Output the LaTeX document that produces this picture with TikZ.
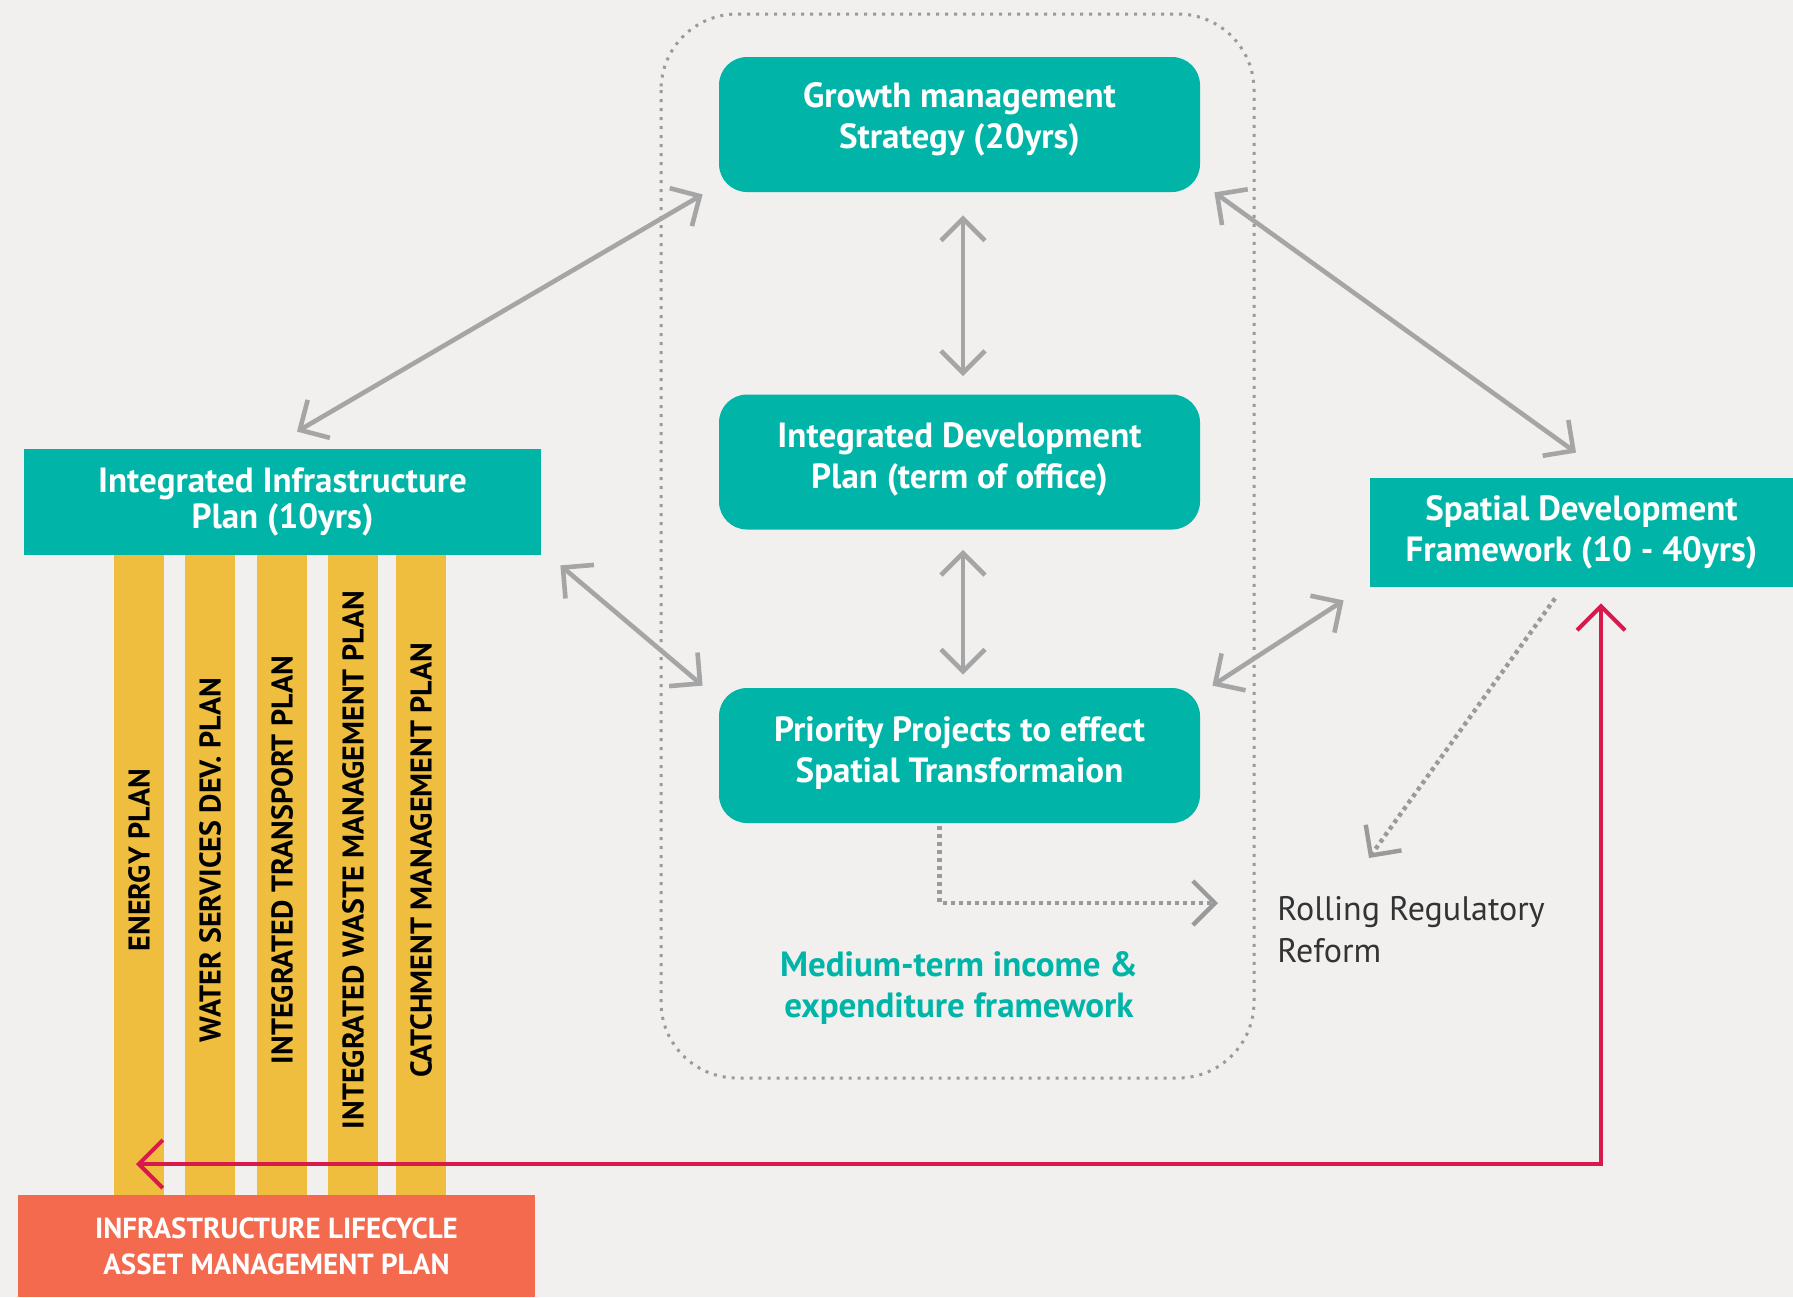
\documentclass[tikz,border=0pt]{standalone}
\usepackage{fontspec}
\setmainfont{PT Sans}
\usetikzlibrary{arrows.meta}
\definecolor{paper}{HTML}{F1F0EF}
\definecolor{planteal}{HTML}{00B5A8}
\definecolor{baryellow}{HTML}{F0BE3E}
\definecolor{assetorange}{HTML}{F36A4E}
\definecolor{linkred}{HTML}{D7194B}
\definecolor{linkgray}{HTML}{A5A5A5}
\definecolor{dotgray}{HTML}{9A9A9A}
\definecolor{rolltext}{HTML}{333333}
\tikzset{
  plan/.style={fill=planteal, text=white, align=center, inner sep=0pt,
    font=\bfseries\fontsize{17.5}{20.5}\selectfont},
  roundplan/.style={plan, rounded corners=14pt, minimum width=240.5pt, minimum height=67.5pt},
  bar/.style={fill=baryellow, inner sep=0pt, minimum width=25pt, minimum height=320pt},
  bartext/.style={rotate=90, inner sep=0pt, font=\bfseries\fontsize{15}{17}\selectfont},
  link/.style={draw=linkgray, line width=2.3pt,
    {Straight Barb[length=11pt,width=22pt]}-{Straight Barb[length=11pt,width=22pt]}},
  dotlink/.style={draw=dotgray, line width=2.2pt, dash pattern=on 2pt off 2pt,
    -{Straight Barb[length=11pt,width=22pt]}},
  redlink/.style={draw=linkred, line width=2pt,
    {Straight Barb[length=12pt,width=24pt]}-{Straight Barb[length=12pt,width=24pt]}}
}
\begin{document}
\begin{tikzpicture}[x=0.5pt,y=-0.5pt]
\useasboundingbox (0,0) rectangle (1793,1297);
\fill[paper] (0,0) rectangle (1793,1297);
% medium-term frame
\draw[dotgray, line width=1.5pt, dash pattern=on 1.5pt off 3pt, rounded corners=38pt]
  (661,14) rectangle (1254,1078);

\node[roundplan, text depth=9pt] (growth) at (959.5,124.5) {Growth management\\Strategy (20yrs)};
\node[roundplan, text depth=6pt] (idp) at (959.5,462) {Integrated Development\\Plan (term of office)};
\node[roundplan, text depth=6pt] (priority) at (959.5,755.5) {Priority Projects to effect\\Spatial Transformaion};
\node[plan, minimum width=258.5pt, minimum height=53pt, font=\bfseries\fontsize{17.5}{18}\selectfont] (iip) at (282.5,502)
  {Integrated Infrastructure\\Plan (10yrs)};
\node[plan, minimum width=211.5pt, minimum height=54.5pt] (sdf) at (1581.5,532.5)
  {Spatial Development\\Framework (10 - 40yrs)};

\foreach \x/\name/\txt in {139/energy/ENERGY PLAN, 210/water/WATER SERVICES DEV. PLAN,
  282/transport/INTEGRATED TRANSPORT PLAN, 353/waste/INTEGRATED WASTE MANAGEMENT PLAN,
  421/catchment/CATCHMENT MANAGEMENT PLAN}
{
\node[bar] (\name) at (\x,875) {};
\node[bartext] (\name-label) at (\x,860) {\txt};
}

\node[plan, fill=assetorange, minimum width=258.5pt, minimum height=51pt,
  font=\bfseries\fontsize{14.5}{18}\selectfont] (asset) at (276.5,1246)
  {INFRASTRUCTURE LIFECYCLE\\ASSET MANAGEMENT PLAN};

\node[text=planteal, align=center, font=\bfseries\fontsize{17.5}{20.5}\selectfont]
  (mtref) at (959,988) {Medium-term income \&\\expenditure framework};
\node[anchor=west, align=left, inner sep=0pt, text=rolltext, font=\fontsize{17}{21}\selectfont]
  (rrr) at (1277,930) {Rolling Regulatory\\Reform};

\coordinate (rrleft) at (1218,903);
\coordinate (rrtop) at (1369,858);
\coordinate (redend) at (136,1164);

\draw[link] ([xshift=7.25pt,yshift=8.5pt]iip.north) -- ([xshift=-8pt,yshift=-1pt]growth.south west);
\draw[link] ([xshift=1.75pt,yshift=-11.5pt]growth.south) -- ([xshift=1.75pt,yshift=9pt]idp.north);
\draw[link] ([xshift=1.75pt,yshift=-10pt]idp.south) -- ([xshift=1.75pt,yshift=6.5pt]priority.north);
\draw[link] ([xshift=7pt]growth.south east) -- ([xshift=-2.75pt,yshift=12.5pt]sdf.north);
\draw[link] ([xshift=9.5pt,yshift=-5pt]iip.south east) -- ([xshift=-8pt,yshift=1pt]priority.north west);
\draw[link] ([xshift=-13pt,yshift=-6.5pt]sdf.south west) -- ([xshift=6pt,yshift=1pt]priority.north east);

\draw[dotlink] ([xshift=-10pt,yshift=-1.5pt]priority.south) |- (rrleft);
\draw[dotlink] ([xshift=-13.25pt,yshift=-5.5pt]sdf.south) -- (rrtop);

\draw[redlink] (redend) -| ([xshift=9.75pt,yshift=-8pt]sdf.south);
\end{tikzpicture}
\end{document}
